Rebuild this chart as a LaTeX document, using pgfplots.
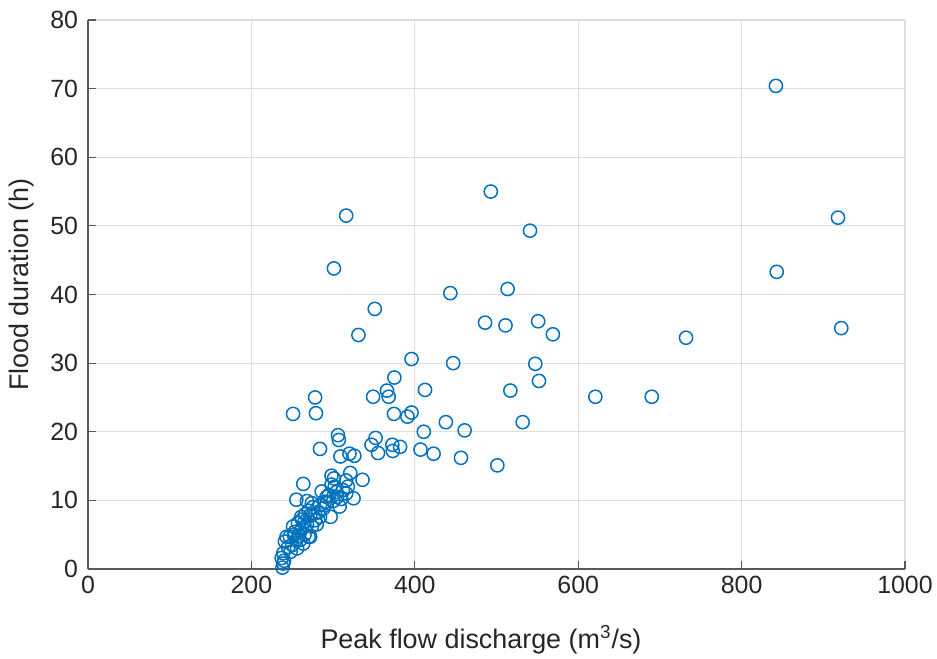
\documentclass[border=0pt]{standalone}
\usepackage{pgfplots}
\pgfplotsset{compat=1.18}
\usepackage{fontspec}
\setmainfont{Liberation Sans}
\definecolor{mblue}{RGB}{0,114,189}
\definecolor{axgray}{RGB}{38,38,38}
\begin{document}
\begin{tikzpicture}
\begin{axis}[
  scale only axis,
  width=408.5bp, height=274.5bp,
  xmin=0, xmax=1000, ymin=0, ymax=80,
  xtick={0,200,...,1000}, ytick={0,10,...,80},
  axis lines*=left,
  axis line style={black!65, line width=0.6bp},
  tick style={black!65, line width=0.6bp},
  major tick length=4bp,
  tick align=inside,
  grid=major,
  major grid style={black!13, line width=0.6bp},
  /pgf/number format/assume math mode=true,
  /pgf/number format/1000 sep={},
  tick label style={font=\fontsize{12.5}{14}\selectfont, text=axgray},
  yticklabel style={xshift=-1.5bp},
  label style={font=\fontsize{13.5}{16}\selectfont, text=axgray},
  xlabel={Peak flow discharge (m\textsuperscript{3}/s)},
  ylabel={Flood duration (h)},
  xlabel style={at={(axis description cs:0.481,-0.129)}, anchor=center},
  ylabel style={at={(axis description cs:-0.081,0.518)}, anchor=center},
  clip=false,
]
\addplot[only marks, mark=o, mark size=3.3bp, mblue, mark options={line width=0.75bp}] table {
x y
842 70.4
493 55.0
316 51.5
918 51.2
541 49.3
301 43.8
843 43.3
443.5 40.2
513.6 40.8
351 37.9
486 35.9
511 35.5
551 36.1
569 34.2
331 34.1
732 33.7
922 35.1
396 30.6
447 30.0
547.5 29.9
375 27.9
552 27.4
412.5 26.1
366 26.0
517 26.0
278 25.0
349 25.1
368 25.1
621 25.1
690 25.1
251 22.6
279 22.7
374.5 22.6
391 22.2
396 22.8
438 21.4
532 21.4
461 20.2
411 20.0
306 19.5
307 18.8
352 19.1
347 18.1
372.5 18.1
382 17.8
373 17.2
407 17.4
423 16.8
456.5 16.2
355 16.9
501 15.1
284 17.5
309 16.4
320 16.8
326 16.5
263.5 12.4
298 13.6
301 13.2
321 14.0
336 13.0
316 12.9
298 12.3
302 12.0
312 11.5
316 11.0
286 11.3
292 10.5
255 10.1
268 9.9
274 9.6
325 10.3
284 9.3
292 9.6
300 9.9
308 9.1
297 7.6
278 7.1
284 7.6
261 7.6
265 6.9
257 6.7
274 6.2
272 4.7
251 6.2
253 5.4
247 4.7
255 4.2
259.5 4.2
243 4.7
241 4.0
245 3.2
239 2.3
237 1.6
240 1.2
238 0.2
239 0.8
270 4.7
263.5 3.7
278 8.1
282 8.3
260 5.5
265 5.0
262 6.0
268 6.5
250 3.5
256 3.0
248 2.5
252 5.0
258 4.8
266 8.0
270 8.5
275 9.0
288 8.8
295 10.8
304 11.2
310 10.2
318 12.0
305 10.5
290 9.8
280 6.5
262 7.2
272 7.8
};
\end{axis}
\pgfresetboundingbox
\path[use as bounding box] ([xshift=-44bp,yshift=-45bp]current axis.south west) rectangle ([xshift=16bp,yshift=10bp]current axis.north east);
\end{tikzpicture}
\end{document}
